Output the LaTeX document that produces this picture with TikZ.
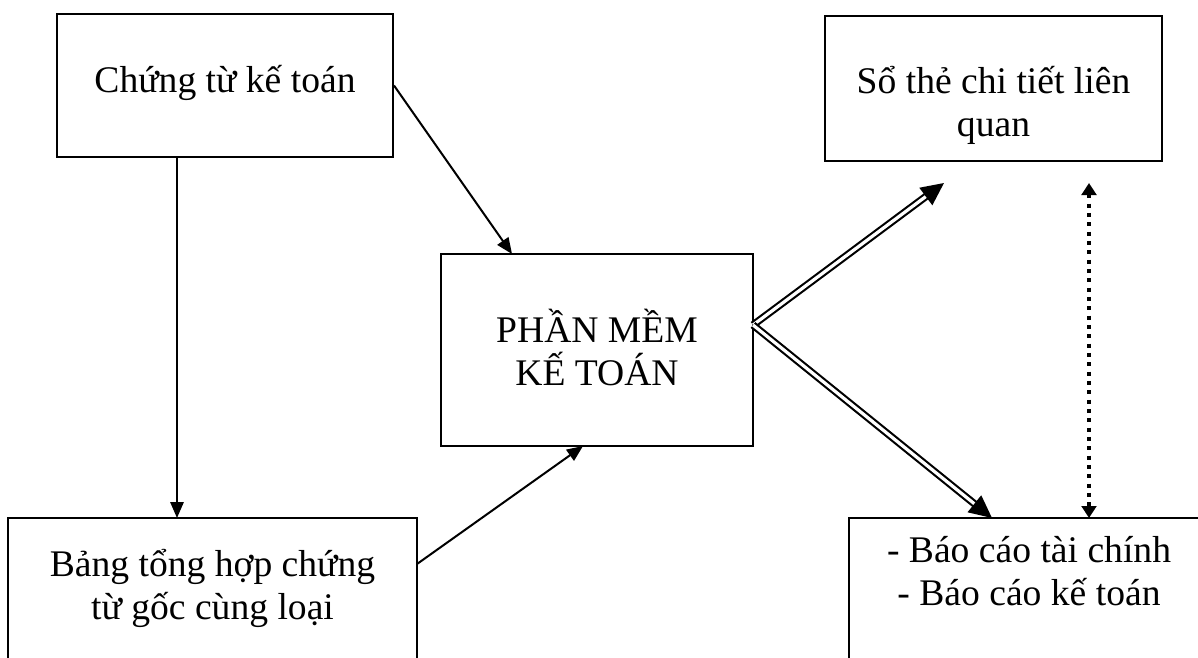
\documentclass[tikz,border=0pt]{standalone}
\usepackage{fontspec}
\setmainfont{Liberation Serif}
\usetikzlibrary{arrows.meta}
\begin{document}
\begin{tikzpicture}[x=0.75pt,y=-0.75pt,
  box/.style={draw, line width=1.5pt, rectangle, inner sep=0pt},
  lbl/.style={align=center, font=\fontsize{28.2}{32}\selectfont, inner sep=0pt, anchor=base},
  flow/.style={line width=1.5pt, -{Triangle[length=12pt,width=10pt]}},
  dbl/.style={double, double distance=2.4pt, line width=1.6pt, -{Triangle[length=17pt,width=16pt]}},
  dotline/.style={line width=3pt, dash pattern=on 3pt off 4pt,
    {Triangle[length=9pt,width=11pt]}-{Triangle[length=9pt,width=11pt]}}]
\useasboundingbox (0,0) rectangle (1198,657);
\clip (0,0) rectangle (1198,657);

% boxes
\node[box, minimum width=252pt, minimum height=107.25pt] (A) at (225,85.5) {};
\node[box, minimum width=252.75pt, minimum height=108.75pt] (D) at (993.5,88.5) {};
\node[box, minimum width=234pt, minimum height=144pt] (C) at (597,350) {};
\node[box, minimum width=306.75pt, minimum height=136.5pt] (B) at (212.5,609) {};
\node[box, minimum width=270pt, minimum height=136.5pt] (E) at (1029,609) {};

% labels (base anchor sits on the last line)
\node[lbl] (tA) at (225,92) {Chứng từ kế toán};
\node[lbl] (tD) at (993.5,136) {Sổ thẻ chi tiết liên\\quan};
\node[lbl] (tC) at (597,385) {PHẦN MỀM\\KẾ TOÁN};
\node[lbl] (tB) at (212.5,619) {Bảng tổng hợp chứng\\từ gốc cùng loại};
\node[lbl] (tE) at (1029,605) {- Báo cáo tài chính\\- Báo cáo kế toán};

% connector end points
\coordinate (aOut) at (177,157);
\coordinate (bIn) at (177,518);
\coordinate (cIn1) at (512,254);
\coordinate (bOut) at (417,564);
\coordinate (cIn2) at (583,446);
\coordinate (cOut) at (753,325);
\coordinate (dTip) at (944,183);
\coordinate (eTip) at (992,518);
\coordinate (vTop) at (1089,183);
\coordinate (vBot) at (1089,518);

% connectors
\draw[flow] (aOut) -- (bIn);
\draw[flow] (A.east) -- (cIn1);
\draw[flow] (bOut) -- (cIn2);
\draw[dbl] (cOut) -- (dTip);
\draw[dbl] (cOut) -- (eTip);
\draw[dotline] (vTop) -- (vBot);
\end{tikzpicture}
\end{document}
